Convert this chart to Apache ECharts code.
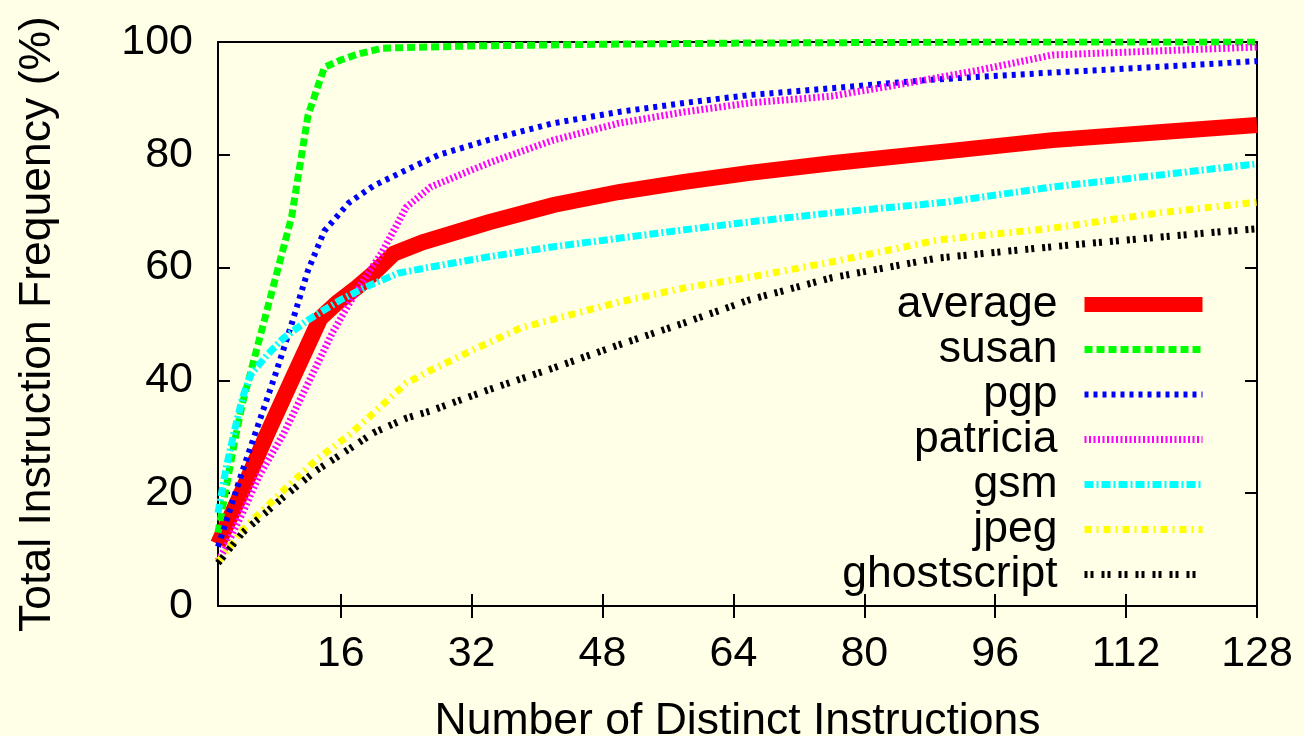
<!DOCTYPE html>
<html>
<head>
<meta charset="utf-8">
<script src="https://cdn.jsdelivr.net/npm/echarts@6/dist/echarts.min.js"></script>
<style>
html,body{margin:0;padding:0;background:#fffee6;}
#c{width:1304px;height:736px;}
</style>
</head>
<body>
<div id="c"></div>
<script>
// ---- data (x = number of distinct instructions, y = cumulative frequency %) ----
const seriesNames = ['average','susan','pgp','patricia','gsm','jpeg','ghostscript'];
const xTicks = [16,32,48,64,80,96,112,128];
const yTicks = [0,20,40,60,80,100];

const average = [[1,11],[4,20.5],[7,30.5],[10,40],[13.5,51],[15.5,53.7],[18,56.5],[20,59],[22.5,62.5],[26,64.5],[34,68],[42,71.1],[50,73.4],[58,75.2],[66,76.8],[76,78.5],[90,80.6],[103,82.6],[116,84],[128,85.3]];
const susan = [[1,13],[2,21],[3,29],[4,36],[6,47],[8,58],[10,69],[12,87],[14,95.5],[16,96.8],[18,97.8],[21,98.9],[32,99.3],[48,99.6],[64,99.8],[96,100],[128,100]];
const pgp = [[1,10.5],[2,15],[4,24],[6,32.5],[8,41],[10,50],[12,59.5],[14,66.5],[17,71.5],[20,74.5],[24,77.3],[28,80],[34,82.6],[42,85.6],[50,87.6],[58,89.2],[66,90.6],[76,91.8],[88,93.3],[102,94.5],[116,95.6],[128,96.6]];
const patricia = [[1,8],[2,10.5],[4,16.5],[6,23],[9,30.5],[12,39.5],[15,48.5],[18,56],[21,62.6],[24,70.7],[27,74.3],[34,78.5],[42,82.6],[50,85.6],[58,87.6],[66,89.2],[76,90.4],[86,92.9],[94,95],[103,97.7],[112,98.2],[128,99.1]];
const gsm = [[1,16.5],[2,24.5],[3,31],[4,37],[5,41],[7,44.5],[9,47.5],[12,50.7],[16,54.3],[19,56.5],[23,59],[27,60.1],[34,61.9],[42,63.7],[50,65.2],[58,66.7],[66,68.1],[76,69.7],[90,71.6],[103,74.3],[116,76.4],[128,78.4]];
const jpeg = [[1,7.8],[4,13.5],[9,20.5],[13,25.9],[17,30.3],[20,34.2],[24,39.5],[27,41.8],[32,45.3],[38,49.3],[44,51.6],[50,53.9],[58,56.4],[66,58.3],[76,61],[89,64.9],[103,67],[116,69.7],[128,71.6]];
const ghostscript = [[1,7.6],[4,13],[9,19.3],[13,24],[17,27.8],[20,30.7],[24,33.3],[27,34.6],[34,38.3],[42,42.2],[50,46.3],[58,50.2],[66,54.3],[76,58.2],[89,61.7],[103,63.7],[116,65.4],[128,66.9]];

const dataList = [average, susan, pgp, patricia, gsm, jpeg, ghostscript];
const colors = ['#ff0000','#00ff00','#0000ff','#ff00ff','#00ffff','#ffff00','#000000'];
const widths = [16,7,6,7,7,7,7];
const dashes = ['solid',[8,4],[4,5],[2,2.5],[9,3,2,3],[7,5,2,5],[3,3,3,8]];
const legendWidths = [15,7,6,7,7,7,7];

const FONT = 'Liberation Sans, Arial, Helvetica, sans-serif';
const FS_TICK = 43;
const FS_TEXT = 44.5;

const chart = echarts.init(document.getElementById('c'), null, {renderer:'canvas'});

const series = seriesNames.map((n,i)=>({
  name:n, type:'line', data:dataList[i], showSymbol:false, symbol:'none',
  xAxisIndex:0, yAxisIndex:0, animation:false, smooth:false,
  lineStyle:{color:colors[i], width:widths[i], type:dashes[i], cap:'butt', join:'miter'},
  itemStyle:{color:colors[i]},
  emphasis:{disabled:true}
}));

const tickStyle = {show:true, inside:true, length:12, lineStyle:{color:'#000', width:2}};

chart.setOption({
  backgroundColor:'#fffee6',
  animation:false,
  textStyle:{fontFamily:FONT},
  grid:{left:218, right:47, top:42, bottom:130, containLabel:false, outerBoundsMode:'none',
        show:true, borderColor:'#000', borderWidth:2, backgroundColor:'transparent'},
  legend:{
    orient:'vertical', align:'right', right:94, top:282, itemGap:0,
    itemWidth:118, itemHeight:16, padding:0, selectedMode:false,
    icon:'inherit',
    itemStyle:{opacity:0},
    textStyle:{fontSize:FS_TEXT, fontFamily:FONT, color:'#000', lineHeight:45, padding:[0,22,0,0]},
    data: seriesNames.map((n,i)=>({name:n, icon:'inherit', lineStyle:{width:legendWidths[i]}}))
  },
  xAxis:[
    {type:'value', min:1, max:128, position:'bottom',
     name:'Number of Distinct Instructions', nameLocation:'middle', nameGap:93,
     nameTextStyle:{fontSize:FS_TEXT, fontFamily:FONT, color:'#000'},
     axisLine:{show:true, lineStyle:{color:'#000', width:2}},
     axisTick:Object.assign({customValues:xTicks}, tickStyle),
     axisLabel:{customValues:xTicks, fontSize:FS_TICK, fontFamily:FONT, color:'#000', margin:27},
     splitLine:{show:false}},
    {type:'value', min:1, max:128, position:'top',
     axisLine:{show:true, lineStyle:{color:'#000', width:2}},
     axisTick:Object.assign({customValues:xTicks}, tickStyle),
     axisLabel:{show:false}, splitLine:{show:false}}
  ],
  yAxis:[
    {type:'value', min:0, max:100, interval:20, position:'left',
     name:'Total Instruction Frequency (%)', nameLocation:'middle', nameGap:158,
     nameTextStyle:{fontSize:FS_TEXT, fontFamily:FONT, color:'#000'},
     axisLine:{show:true, lineStyle:{color:'#000', width:2}},
     axisTick:tickStyle,
     axisLabel:{fontSize:FS_TICK, fontFamily:FONT, color:'#000', margin:25},
     splitLine:{show:false}},
    {type:'value', min:0, max:100, interval:20, position:'right',
     axisLine:{show:true, lineStyle:{color:'#000', width:2}},
     axisTick:tickStyle, axisLabel:{show:false}, splitLine:{show:false}}
  ],
  series:series
});
</script>
</body>
</html>
